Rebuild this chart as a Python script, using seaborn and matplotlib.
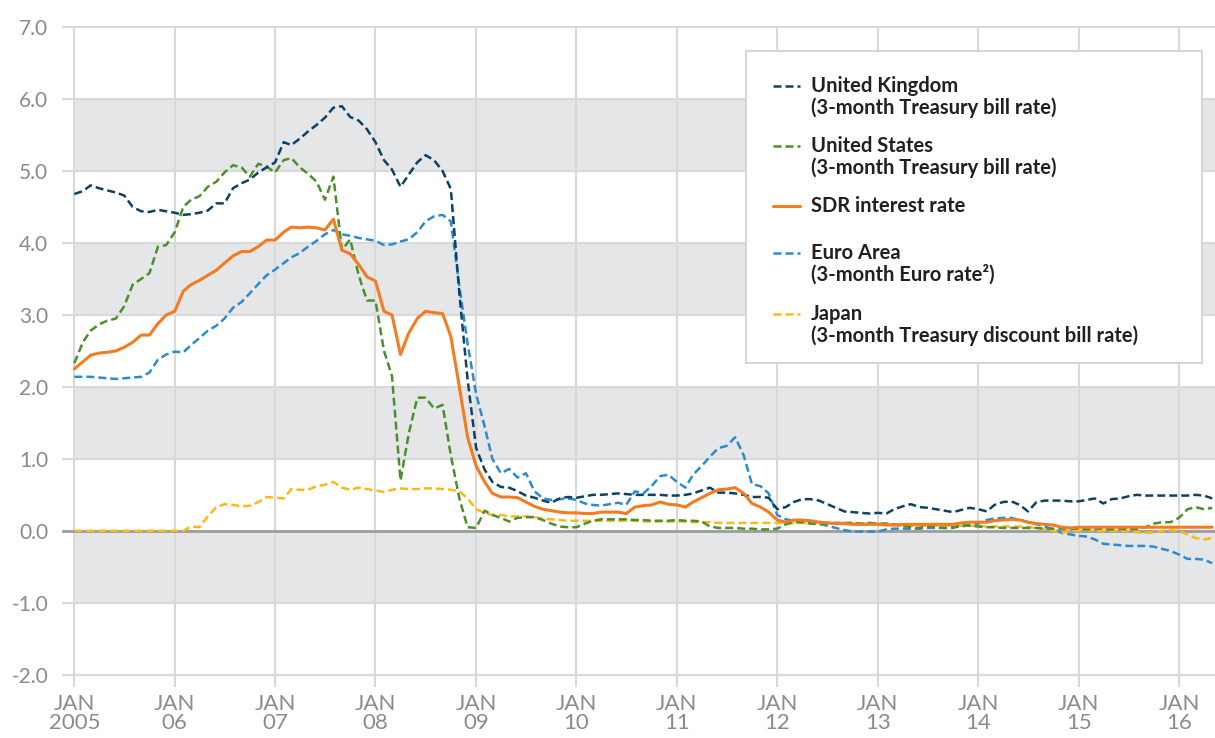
import matplotlib
matplotlib.use("Agg")
import matplotlib.pyplot as plt
from matplotlib.lines import Line2D
from matplotlib.patches import Rectangle
import pandas as pd
import seaborn as sns

# monthly readings, Jan 2005 .. May 2016 (per cent)
months = pd.date_range("2005-01-01", periods=137, freq="MS")

uk = [4.68, 4.72, 4.80, 4.76, 4.73, 4.70, 4.66, 4.50, 4.44, 4.43, 4.46, 4.44,
      4.42, 4.39, 4.40, 4.42, 4.45, 4.55, 4.55, 4.76, 4.83, 4.88, 4.98, 5.05,
      5.12, 5.40, 5.36, 5.45, 5.55, 5.64, 5.74, 5.88, 5.90, 5.75, 5.70, 5.58,
      5.40, 5.15, 5.02, 4.78, 4.95, 5.12, 5.22, 5.15, 5.00, 4.75, 3.30, 2.10,
      1.15, 0.85, 0.68, 0.61, 0.60, 0.55, 0.49, 0.46, 0.42, 0.39, 0.45, 0.47,
      0.46, 0.48, 0.50, 0.50, 0.51, 0.52, 0.51, 0.50, 0.50, 0.50, 0.50, 0.49,
      0.49, 0.50, 0.52, 0.56, 0.60, 0.53, 0.53, 0.52, 0.50, 0.47, 0.47, 0.46,
      0.30, 0.33, 0.40, 0.44, 0.44, 0.42, 0.37, 0.32, 0.27, 0.26, 0.25, 0.24,
      0.25, 0.24, 0.30, 0.34, 0.37, 0.33, 0.32, 0.30, 0.28, 0.26, 0.29, 0.32,
      0.30, 0.27, 0.36, 0.40, 0.41, 0.36, 0.27, 0.40, 0.42, 0.42, 0.42, 0.41,
      0.41, 0.43, 0.45, 0.38, 0.44, 0.45, 0.48, 0.50, 0.49, 0.49, 0.49, 0.49,
      0.49, 0.49, 0.50, 0.49, 0.45]

us = [2.33, 2.62, 2.78, 2.87, 2.92, 2.95, 3.12, 3.42, 3.50, 3.58, 3.95, 3.97,
      4.15, 4.50, 4.60, 4.65, 4.78, 4.85, 4.98, 5.08, 5.05, 4.92, 5.10, 5.06,
      4.98, 5.15, 5.18, 5.05, 4.96, 4.85, 4.60, 4.92, 3.90, 4.05, 3.55, 3.20,
      3.20, 2.50, 2.15, 0.70, 1.35, 1.85, 1.85, 1.70, 1.75, 1.05, 0.45, 0.05,
      0.04, 0.28, 0.22, 0.18, 0.13, 0.18, 0.19, 0.19, 0.15, 0.10, 0.06, 0.05,
      0.05, 0.10, 0.14, 0.16, 0.16, 0.16, 0.16, 0.15, 0.15, 0.14, 0.14, 0.14,
      0.15, 0.14, 0.14, 0.13, 0.06, 0.04, 0.04, 0.04, 0.03, 0.03, 0.02, 0.02,
      0.03, 0.09, 0.12, 0.12, 0.10, 0.09, 0.10, 0.11, 0.11, 0.11, 0.10, 0.11,
      0.10, 0.10, 0.09, 0.07, 0.05, 0.04, 0.06, 0.05, 0.04, 0.04, 0.08, 0.07,
      0.06, 0.05, 0.05, 0.04, 0.04, 0.04, 0.04, 0.04, 0.03, 0.03, 0.03, 0.03,
      0.03, 0.02, 0.03, 0.03, 0.02, 0.03, 0.02, 0.03, 0.05, 0.10, 0.12, 0.12,
      0.18, 0.30, 0.33, 0.30, 0.32]

sdr = [2.25, 2.35, 2.44, 2.47, 2.48, 2.50, 2.55, 2.62, 2.72, 2.72, 2.88, 3.00,
       3.05, 3.33, 3.42, 3.48, 3.55, 3.62, 3.72, 3.82, 3.88, 3.88, 3.95, 4.04,
       4.04, 4.15, 4.22, 4.21, 4.22, 4.21, 4.18, 4.33, 3.90, 3.85, 3.70, 3.53,
       3.47, 3.05, 3.00, 2.45, 2.75, 2.95, 3.05, 3.03, 3.02, 2.70, 2.00, 1.30,
       0.90, 0.68, 0.52, 0.47, 0.47, 0.46, 0.40, 0.34, 0.30, 0.28, 0.26, 0.25,
       0.25, 0.24, 0.24, 0.26, 0.26, 0.26, 0.24, 0.33, 0.35, 0.36, 0.40, 0.37,
       0.36, 0.33, 0.40, 0.46, 0.52, 0.57, 0.58, 0.60, 0.52, 0.38, 0.33, 0.26,
       0.15, 0.12, 0.15, 0.15, 0.14, 0.12, 0.11, 0.10, 0.10, 0.09, 0.09, 0.09,
       0.09, 0.08, 0.08, 0.09, 0.09, 0.09, 0.09, 0.09, 0.09, 0.09, 0.11, 0.12,
       0.12, 0.12, 0.14, 0.15, 0.16, 0.15, 0.12, 0.10, 0.09, 0.08, 0.05, 0.04,
       0.05, 0.05, 0.05, 0.05, 0.05, 0.05, 0.05, 0.05, 0.05, 0.05, 0.05, 0.05,
       0.05, 0.05, 0.05, 0.05, 0.05]

euro = [2.14, 2.14, 2.14, 2.13, 2.12, 2.11, 2.12, 2.13, 2.14, 2.20, 2.38, 2.45,
        2.49, 2.48, 2.58, 2.68, 2.78, 2.85, 2.95, 3.10, 3.18, 3.30, 3.43, 3.55,
        3.63, 3.72, 3.80, 3.86, 3.95, 4.03, 4.12, 4.18, 4.12, 4.10, 4.07, 4.05,
        4.03, 3.97, 3.98, 4.02, 4.05, 4.15, 4.30, 4.37, 4.39, 4.30, 3.40, 2.60,
        1.90, 1.45, 1.00, 0.80, 0.86, 0.74, 0.80, 0.55, 0.45, 0.43, 0.44, 0.45,
        0.43, 0.38, 0.36, 0.35, 0.37, 0.39, 0.36, 0.55, 0.52, 0.62, 0.76, 0.78,
        0.68, 0.60, 0.78, 0.90, 1.03, 1.15, 1.18, 1.30, 1.05, 0.65, 0.62, 0.52,
        0.22, 0.16, 0.14, 0.13, 0.12, 0.10, 0.07, 0.04, 0.01, -0.01, -0.01, -0.01,
        -0.01, 0.02, 0.03, 0.03, 0.03, 0.03, 0.04, 0.04, 0.04, 0.05, 0.06, 0.08,
        0.10, 0.15, 0.17, 0.18, 0.18, 0.15, 0.12, 0.09, 0.06, 0.02, -0.03, -0.05,
        -0.07, -0.08, -0.12, -0.18, -0.19, -0.20, -0.21, -0.21, -0.21, -0.22, -0.25, -0.28,
        -0.33, -0.39, -0.39, -0.40, -0.45]

japan = [0.00, 0.00, 0.00, 0.00, 0.00, 0.00, 0.00, 0.00, 0.00, 0.00, 0.00, 0.00,
         0.00, 0.00, 0.06, 0.05, 0.20, 0.33, 0.37, 0.36, 0.34, 0.35, 0.40, 0.47,
         0.46, 0.45, 0.58, 0.57, 0.57, 0.62, 0.64, 0.68, 0.60, 0.57, 0.60, 0.58,
         0.56, 0.54, 0.57, 0.59, 0.58, 0.58, 0.59, 0.59, 0.58, 0.57, 0.55, 0.45,
         0.30, 0.25, 0.22, 0.22, 0.20, 0.20, 0.20, 0.19, 0.17, 0.16, 0.15, 0.14,
         0.14, 0.14, 0.14, 0.14, 0.14, 0.14, 0.14, 0.14, 0.13, 0.13, 0.13, 0.13,
         0.13, 0.13, 0.12, 0.12, 0.12, 0.11, 0.11, 0.11, 0.11, 0.11, 0.11, 0.11,
         0.11, 0.11, 0.11, 0.11, 0.11, 0.11, 0.11, 0.11, 0.11, 0.11, 0.10, 0.10,
         0.10, 0.10, 0.08, 0.07, 0.07, 0.07, 0.07, 0.07, 0.07, 0.07, 0.07, 0.07,
         0.07, 0.06, 0.06, 0.06, 0.06, 0.06, 0.05, 0.04, 0.02, 0.00, -0.03, 0.00,
         0.00, 0.01, 0.00, 0.00, 0.00, 0.00, 0.00, -0.02, -0.03, -0.02, 0.00, 0.01,
         0.00, -0.05, -0.10, -0.12, -0.10]

yticks = [-2, -1, 0, 1, 2, 3, 4, 5, 6, 7]
year_starts = pd.date_range("2005-01-01", "2016-01-01", freq="YS")
xlabels = ["JAN\n2005", "JAN\n06", "JAN\n07", "JAN\n08", "JAN\n09", "JAN\n10",
           "JAN\n11", "JAN\n12", "JAN\n13", "JAN\n14", "JAN\n15", "JAN\n16"]

legend_rows = [
    ("United Kingdom", "(3-month Treasury bill rate)"),
    ("United States", "(3-month Treasury bill rate)"),
    ("SDR interest rate", None),
    ("Euro Area", "(3-month Euro rate\u00b2)"),
    ("Japan", "(3-month Treasury discount bill rate)"),
]

NAVY, GREEN, ORANGE, BLUE, GOLD = "#0d4264", "#4b8f2c", "#f47b20", "#2a8bd0", "#fdb913"
DASH = (0, (3.2, 1.6))

W, H = 1215, 738
sns.set_style("white")
plt.rcParams["font.family"] = ["Lato", "DejaVu Sans"]

fig = plt.figure(figsize=(W / 100, H / 100), dpi=100)
ax = fig.add_axes([62 / W, 1 - 687 / H, (W - 62) / W, (687 - 25.6) / H])
ax.set_xlim(pd.Timestamp("2004-11-17"), pd.Timestamp("2016-05-11"))
ax.set_ylim(-2.17, 7.02)

# alternating grey bands
for lo in [5, 3, 1, -1]:
    ax.fill_between([months[0], pd.Timestamp("2016-06-01")], lo, lo + 1,
                    color="#e5e6e8", lw=0, zorder=0)

ax.set_yticks(yticks)
ax.set_yticklabels([f"{v:.1f}" for v in yticks])
ax.set_xticks(year_starts)
ax.set_xticklabels(xlabels)
ax.grid(True, color="#d9d9d9", lw=1.5, zorder=0.5)
ax.set_axisbelow(True)
ax.axhline(0, color="#9d9d9d", lw=2, zorder=1)
for s in ax.spines.values():
    s.set_visible(False)
ax.tick_params(length=0, labelcolor="#8b8b8b")
ax.tick_params(axis="y", pad=10, labelsize=15)
ax.tick_params(axis="x", pad=5, labelsize=16)
for lbl in ax.get_xticklabels():
    lbl.set_linespacing(0.95)

series = [(euro, BLUE, DASH, 1.8), (japan, GOLD, DASH, 1.8),
          (us, GREEN, DASH, 1.8), (uk, NAVY, DASH, 1.8),
          (sdr, ORANGE, "-", 2.2)]
for vals, col, ls, lw in series:
    sns.lineplot(x=months, y=vals, ax=ax, color=col, linestyle=ls, lw=lw, zorder=3)
ax.set_xlabel("")
ax.set_ylabel("")

# legend box drawn by hand
def fx(px):
    return px / W

def fy(py):
    return 1 - py / H

fig.add_artist(Rectangle((fx(746), fy(363)), fx(1202) - fx(746), fy(51) - fy(363),
                         transform=fig.transFigure, facecolor="white",
                         edgecolor="#d6d6d6", lw=1.5, zorder=5))
handle_styles = [(NAVY, DASH, 1.8), (GREEN, DASH, 1.8), (ORANGE, "-", 2.2),
                 (BLUE, DASH, 1.8), (GOLD, DASH, 1.8)]
row_y = [86, 146, 206, 253, 314]
for (first, second), (col, ls, lw), y in zip(legend_rows, handle_styles, row_y):
    fig.add_artist(Line2D([fx(773), fx(800)], [fy(y), fy(y)], transform=fig.transFigure,
                          color=col, linestyle=ls, lw=lw, zorder=6))
    fig.text(fx(811), fy(y), first, ha="left", va="center", fontsize=14.5,
             fontweight="bold", color="#231f20", zorder=6)
    if second:
        fig.text(fx(811), fy(y + 22), second, ha="left", va="center", fontsize=14.5,
                 fontweight="bold", color="#231f20", zorder=6)

fig.savefig("out.png", dpi=100)
